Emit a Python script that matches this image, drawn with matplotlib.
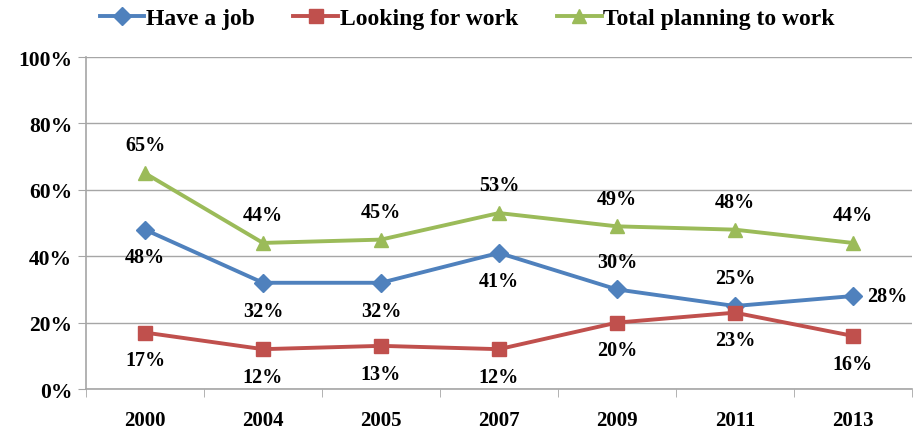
import numpy as np
import matplotlib
matplotlib.use("Agg")
import matplotlib.pyplot as plt
from matplotlib.ticker import FixedLocator, FuncFormatter

years = ["2000", "2004", "2005", "2007", "2009", "2011", "2013"]
have_job = [48, 32, 32, 41, 30, 25, 28]
looking = [17, 12, 13, 12, 20, 23, 16]
total = [65, 44, 45, 53, 49, 48, 44]

# label placement for "Have a job": below / above / right
job_pos = ["below", "below", "below", "below", "above", "above", "right"]

plt.rcParams["font.family"] = ["Liberation Serif", "DejaVu Serif"]
plt.rcParams["font.weight"] = "bold"

fig = plt.figure(figsize=(9.21, 4.31), dpi=100)
ax = fig.add_axes([0.0934, 0.0951, 0.8966, 0.7703])

x = np.arange(len(years))
l1, = ax.plot(x, have_job, color="#4F81BD", lw=2.8, marker="D", ms=9, label="Have a job")
l2, = ax.plot(x, looking, color="#C0504D", lw=2.8, marker="s", ms=10.5, label="Looking for work")
l3, = ax.plot(x, total, color="#9BBB59", lw=2.8, marker="^", ms=10.5, label="Total planning to work")

kw = dict(textcoords="offset points", ha="center", va="center",
          fontsize=14.5, fontweight="bold")
for i, v in enumerate(have_job):
    p = job_pos[i]
    off = {"below": (0, -20), "above": (0, 20), "right": (25, 0)}[p]
    ax.annotate(f"{v}%", (x[i], v), xytext=off, **kw)
for i, v in enumerate(looking):
    ax.annotate(f"{v}%", (x[i], v), xytext=(0, -20), **kw)
for i, v in enumerate(total):
    ax.annotate(f"{v}%", (x[i], v), xytext=(0, 20), **kw)

ax.set_xlim(-0.5, len(years) - 0.5)
ax.set_ylim(0, 100)
ax.set_yticks(range(0, 101, 20))
ax.yaxis.set_major_formatter(FuncFormatter(lambda v, _: f"{v:.0f}%"))
ax.grid(axis="y", color="#A6A6A6", lw=1)
ax.set_axisbelow(True)

ax.set_xticks(x)
ax.set_xticklabels(years)
ax.xaxis.set_minor_locator(FixedLocator(np.arange(-0.5, len(years), 1)))
ax.tick_params(axis="x", which="major", length=0, pad=15, labelsize=15)
ax.tick_params(axis="x", which="minor", length=6, color="#A6A6A6", direction="out")
ax.tick_params(axis="y", length=6, color="#A6A6A6", labelsize=15.5, pad=4)
for lab in ax.get_xticklabels() + ax.get_yticklabels():
    lab.set_fontweight("bold")

for s in ["top", "right"]:
    ax.spines[s].set_visible(False)
for s in ["left", "bottom"]:
    ax.spines[s].set_color("#A6A6A6")
    ax.spines[s].set_linewidth(1.2)

fig.legend(handles=[l1, l2, l3], loc="center", bbox_to_anchor=(0.507, 0.955),
           ncol=3, frameon=False, handlelength=1.9,
           handletextpad=0.05, columnspacing=1.65, prop={"weight": "bold", "size": 17})

fig.savefig("out.png", dpi=100)
